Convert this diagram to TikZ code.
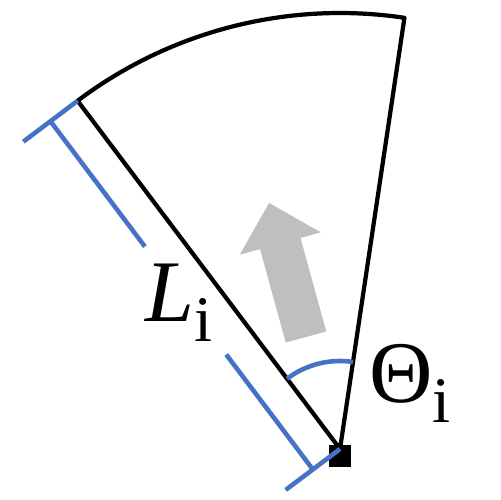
\documentclass[tikz,border=0pt]{standalone}
\usepackage{fontspec}
\setmainfont{Liberation Serif}
\usetikzlibrary{calc}
\definecolor{dimblue}{RGB}{68,114,196}
\definecolor{arrowgray}{RGB}{191,191,191}
\newcommand{\symsub}[2]{#1\raisebox{-11pt}{\fontsize{37}{37}\selectfont #2}}

\begin{document}
\begin{tikzpicture}[
      x=0.02cm, y=0.02cm,
      sector/.style={line width=2.4pt, draw=black, line join=round},
      dimline/.style={line width=2.6pt, draw=dimblue},
      pivot/.style={rectangle, fill=black, minimum size=0.44cm, inner sep=0pt},
      bigarrow/.style={fill=arrowgray, draw=none},
      every node/.style={inner sep=0pt, font=\fontsize{50}{50}\selectfont}
      ]
      \useasboundingbox (0,0) rectangle (500,500);
      \coordinate (O) at (340,51);
      \path (O) ++(127:436) coordinate (A);
      \path (O) ++(81.5:436) coordinate (B);
      % sector
      \draw[sector] (O) -- (A) arc[start angle=127, end angle=81.5, radius=436] -- (O);
      \node[pivot] (sq) at (340,44) {};
      % angle
      \draw[dimline] ($(O)+(127:88)$) arc[start angle=127, end angle=81.5, radius=88];
      % length
      \path (A) ++(217:34) coordinate (A1) ++(217:34) coordinate (A2);
      \path (O) ++(217:34) coordinate (O1) ++(217:34) coordinate (O2);
      \draw[dimline] (A) -- (A2);
      \draw[dimline] (O) -- (O2);
      \draw[dimline] (A1) -- ($(A1)!0.36!(O1)$);
      \draw[dimline] ($(A1)!0.67!(O1)$) -- (O1);
      % direction
      \begin{scope}[shift={(306,163)}, rotate=15.4]
        \fill[bigarrow] (-21,0) -- (-21,97) -- (-42,97) -- (0,139) -- (42,97) -- (21,97) -- (21,0) -- cycle;
      \end{scope}
      \node[anchor=base west] (len) at (145,178) {\symsub{\textit{L}}{i}};
      \node[anchor=base west] (ang) at (369,97) {\symsub{Θ}{i}};
    \end{tikzpicture}
\end{document}
